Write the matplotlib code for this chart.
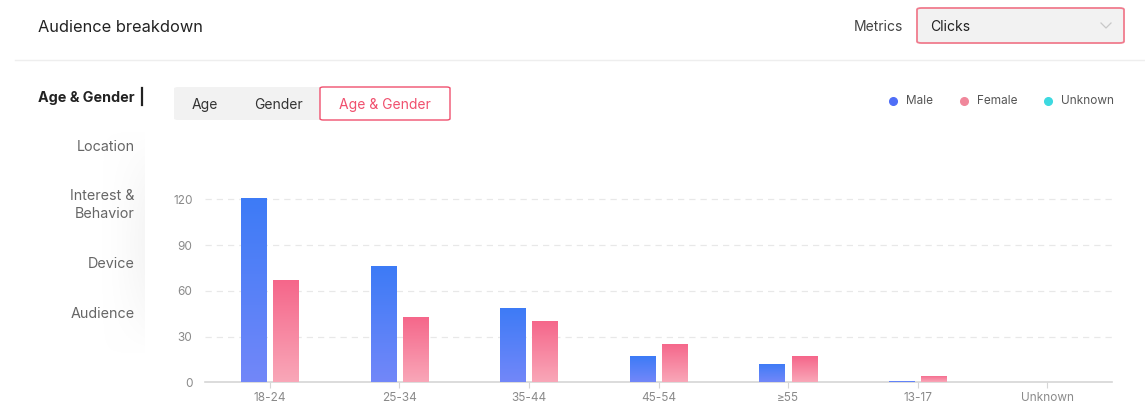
import matplotlib
matplotlib.use('Agg')
import matplotlib.pyplot as plt
import numpy as np
from matplotlib.patches import FancyBboxPatch
from matplotlib.colors import LinearSegmentedColormap

plt.rcParams['font.family'] = ['Inter', 'DejaVu Sans']

categories = ['18-24', '25-34', '35-44', '45-54', '≥55', '13-17', 'Unknown']
male = [121, 76, 49, 17, 12, 1, 0]
female = [67, 43, 40, 25, 17, 4, 0]
unknown = [0, 0, 0, 0, 0, 0, 0]
yticks = [0, 30, 60, 90, 120]
menu_items = ['Location', 'Interest &\nBehavior', 'Device', 'Audience']
tabs = ['Age', 'Gender', 'Age & Gender']
legend_names = ['Male', 'Female', 'Unknown']

W, H = 1145, 407
fig = plt.figure(figsize=(W / 100, H / 100), dpi=100)


def fx(x):
    return x / W


def fy(y):
    return 1 - y / H


# header
fig.text(fx(38), fy(27.5), 'Audience breakdown', fontsize=11.8, color='#222222', va='center')
fig.text(fx(903), fy(27), 'Metrics', fontsize=10, color='#444444', va='center', ha='right')
fig.patches.append(FancyBboxPatch((fx(917), fy(43)), fx(207), 35 / H,
                                  boxstyle='round,pad=0,rounding_size=0.004',
                                  transform=fig.transFigure, facecolor='#f2f2f2',
                                  edgecolor='#f07c8e', linewidth=1.3))
fig.text(fx(930), fy(27), 'Clicks', fontsize=10, color='#222222', va='center')
fig.lines.append(plt.Line2D([fx(1101), fx(1106), fx(1111)], [fy(23), fy(28), fy(23)],
                            transform=fig.transFigure, color='#c8c8c8', lw=0.9))
fig.lines.append(plt.Line2D([fx(15), fx(1145)], [fy(60), fy(60)],
                            transform=fig.transFigure, color='#eeeeee', lw=1))

# left menu shadow (faint)
sh = fig.add_axes([fx(100), fy(355), fx(45), 225 / H])
gx = np.linspace(0, 1, 60)
gy = np.sin(np.linspace(0, np.pi, 120))
shade = np.outer(gy, gx ** 1.5)
rgba = np.zeros((120, 60, 4))
rgba[..., :3] = 0.93
rgba[..., 3] = shade * 0.5
sh.imshow(rgba, aspect='auto', extent=[0, 1, 0, 1])
sh.axis('off')

# left menu
fig.text(fx(135), fy(98), 'Age & Gender', fontsize=10.3, fontweight='bold',
         color='#222222', va='center', ha='right')
fig.lines.append(plt.Line2D([fx(142), fx(142)], [fy(88), fy(105)],
                            transform=fig.transFigure, color='#222222', lw=1.6))
menu_y = [147, 205, 264, 314]
for name, y in zip(menu_items, menu_y):
    fig.text(fx(135), fy(y), name, fontsize=10.3, color='#666666', va='center',
             ha='right', linespacing=1.3, zorder=5)

# tabs
fig.patches.append(FancyBboxPatch((fx(174), fy(120)), fx(276), 33 / H,
                                  boxstyle='round,pad=0,rounding_size=0.004',
                                  transform=fig.transFigure, facecolor='#f2f2f2',
                                  edgecolor='none'))
fig.patches.append(FancyBboxPatch((fx(320), fy(120)), fx(130), 33 / H,
                                  boxstyle='round,pad=0,rounding_size=0.003',
                                  transform=fig.transFigure, facecolor='white',
                                  edgecolor='#f0506e', linewidth=1))
tab_x = [205, 278, 385]
tab_c = ['#333333', '#333333', '#f0506e']
for name, x, c in zip(tabs, tab_x, tab_c):
    fig.text(fx(x), fy(105), name, fontsize=10, color=c, va='center', ha='center')

# legend
leg_x = [893, 964, 1048]
leg_c = ['#4f6ef7', '#f0879b', '#3dd9e0']
for name, x, c in zip(legend_names, leg_x, leg_c):
    fig.lines.append(plt.Line2D([fx(x)], [fy(101)], transform=fig.transFigure,
                                marker='o', ms=5.5, color=c, lw=0))
    fig.text(fx(x + 13), fy(101.5), name, fontsize=8.5, color='#555555', va='center')

# chart
ax = fig.add_axes([fx(205), fy(382.3), fx(907), 198.25 / H])
x = np.arange(len(categories))
w = 0.195
male_cmap = LinearSegmentedColormap.from_list('m', ['#7287f9', '#3d7bf6'])
female_cmap = LinearSegmentedColormap.from_list('f', ['#f9a7b8', '#f5668a'])
vgrad = np.linspace(0, 1, 100).reshape(-1, 1)

for vals, off, cmap in [(male, -0.125, male_cmap), (female, 0.125, female_cmap)]:
    bars = ax.bar(x + off, vals, width=w, color='none', edgecolor='none')
    for b, v in zip(bars, vals):
        if v <= 0:
            continue
        im = ax.imshow(vgrad, cmap=cmap, origin='lower', aspect='auto',
                       extent=[b.get_x(), b.get_x() + w, 0, v], zorder=3)
        im.set_clip_path(b)
ax.bar(x, unknown, width=w, color='#3dd9e0')

ax.set_xlim(-0.5, len(categories) - 0.5)
ax.set_ylim(0, 130)
ax.set_yticks(yticks)
ax.set_xticks(x)
ax.set_xticklabels(categories)
for yv in yticks[1:]:
    ax.axhline(yv, color='#e8e8e8', lw=0.9, ls=(0, (5, 4)), zorder=0)
for s in ['top', 'right', 'left']:
    ax.spines[s].set_visible(False)
ax.spines['bottom'].set_color('#d6d6d6')
ax.spines['bottom'].set_linewidth(1.2)
ax.spines['bottom'].set_zorder(1)
ax.tick_params(axis='y', length=0, pad=9, labelsize=8.5, labelcolor='#8a8a8a')
ax.tick_params(axis='x', length=4, color='#d6d6d6', pad=3, labelsize=8.5,
               labelcolor='#8a8a8a')
ax.patch.set_alpha(0)

fig.savefig('out.png', dpi=100)
